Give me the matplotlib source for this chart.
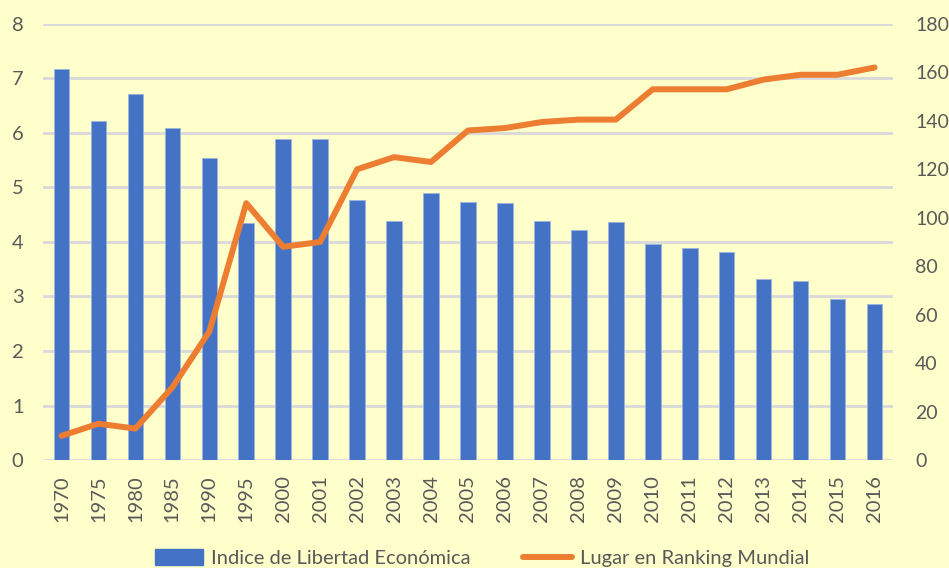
import matplotlib
matplotlib.use("Agg")
import matplotlib.pyplot as plt
from matplotlib.patches import Patch
from matplotlib.lines import Line2D
import numpy as np

years = ["1970", "1975", "1980", "1985", "1990", "1995", "2000", "2001", "2002",
         "2003", "2004", "2005", "2006", "2007", "2008", "2009", "2010", "2011",
         "2012", "2013", "2014", "2015", "2016"]
indice = [7.17, 6.22, 6.72, 6.09, 5.54, 4.35, 5.89, 5.89, 4.77,
          4.38, 4.90, 4.73, 4.72, 4.38, 4.22, 4.37, 3.96, 3.89,
          3.81, 3.32, 3.28, 2.95, 2.86]
ranking = [10, 15, 13, 30, 53, 106, 88, 90, 120,
           125, 123, 136, 137, 139.5, 140.5, 140.5, 153, 153,
           153, 157, 159, 159, 162]

label_bar = "Indice de Libertad Económica"
label_line = "Lugar en Ranking Mundial"

bg = "#FFFFCC"
blue = "#4472C4"
orange = "#ED7D31"
txt = "#595959"
grid = "#D9D9D9"

plt.rcParams['font.family'] = ['Lato', 'DejaVu Sans']

fig = plt.figure(figsize=(9.49, 5.68), dpi=100, facecolor=bg)
ax = fig.add_axes([0.0453, 0.190, 0.8957, 0.768])
ax.set_facecolor(bg)
x = np.arange(len(years))
ax.bar(x, indice, width=0.42, color=blue, edgecolor="#9DB3E0", linewidth=0.6, zorder=2)
ax.set_xlim(-0.5, len(years) - 0.5)
ax.set_ylim(0, 8)
ax.set_yticks(range(0, 9))
ax.set_axisbelow(True)
ax.grid(axis='y', color=grid, linewidth=2, zorder=0)
ax.set_xticks(x)
ax.set_xticklabels(years, rotation=90, fontsize=14.5, color=txt)
ax.tick_params(axis='y', labelsize=14.5, labelcolor=txt, length=0, pad=14)
ax.tick_params(axis='x', length=0, pad=11)
for s in ax.spines.values():
    s.set_visible(False)

ax2 = ax.twinx()
ax2.plot(x, ranking, color=orange, linewidth=4.3, solid_capstyle='round',
         solid_joinstyle='round', zorder=3)
ax2.set_ylim(0, 180)
ax2.set_yticks(range(0, 181, 20))
ax2.tick_params(axis='y', labelsize=14, labelcolor=txt, length=0, pad=16)
for s in ax2.spines.values():
    s.set_visible(False)

handles = [Patch(facecolor=blue, edgecolor=blue),
           Line2D([0], [0], color=orange, linewidth=4.3, solid_capstyle='round')]
fig.legend(handles, [label_bar, label_line], loc='lower center',
           bbox_to_anchor=(0.508, -0.03), ncol=2, frameon=False,
           fontsize=14.5, labelcolor=txt, handlelength=2.4, handleheight=0.8,
           columnspacing=2.6, handletextpad=0.4)

fig.savefig("out.png", dpi=100, facecolor=bg)
